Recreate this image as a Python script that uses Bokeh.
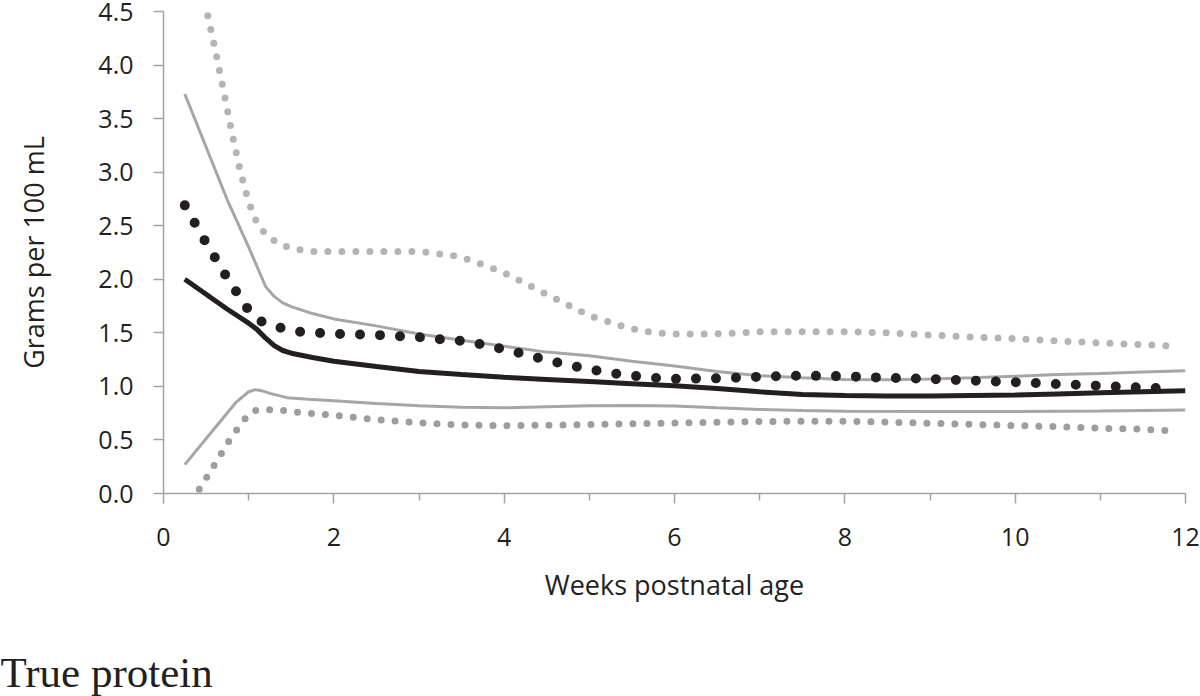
from bokeh.plotting import figure
from bokeh.models import FixedTicker, Title, LinearAxis
from bokeh.embed import file_html
from bokeh.resources import INLINE

# ---------------- data ----------------
x_ticks = [0, 2, 4, 6, 8, 10, 12]
x_minor = [1, 3, 5, 7, 9, 11]
y_ticks = [0.0, 0.5, 1.0, 1.5, 2.0, 2.5, 3.0, 3.5, 4.0, 4.5]
y_tick_labels = ["0.0", "0.5", "1.0", "1.5", "2.0", "2.5", "3.0", "3.5", "4.0", "4.5"]

median_x = [0.25, 0.5, 0.75, 1.0, 1.1, 1.2, 1.3, 1.4, 1.5, 1.75, 2.0, 2.5, 3.0, 3.5, 4.0,
            4.5, 5.0, 5.5, 6.0, 6.5, 7.0, 7.5, 8.0, 8.5, 9.0, 9.5, 10.0, 10.5, 11.0, 11.5, 12.0]
median_y = [2.00, 1.86, 1.72, 1.59, 1.53, 1.45, 1.38, 1.335, 1.31, 1.27, 1.235, 1.185, 1.14, 1.11, 1.085,
            1.065, 1.045, 1.025, 1.005, 0.98, 0.95, 0.925, 0.915, 0.91, 0.91, 0.915, 0.92, 0.93, 0.94, 0.95, 0.96]

mean_x = [0.25, 0.5, 0.75, 1.0, 1.14, 1.25, 1.36, 1.6, 2.0, 2.5, 3.0, 3.25, 3.5, 3.75, 4.0, 4.25,
          4.5, 4.75, 5.0, 5.25, 5.5, 5.75, 6.0, 6.5, 7.0, 7.5, 8.0, 8.5, 9.0, 9.5, 10.0, 10.5,
          11.0, 11.5, 11.85]
mean_y = [2.69, 2.34, 2.01, 1.71, 1.61, 1.575, 1.55, 1.51, 1.49, 1.48, 1.46, 1.44, 1.425, 1.39, 1.345, 1.30,
          1.245, 1.20, 1.16, 1.125, 1.10, 1.08, 1.07, 1.075, 1.09, 1.10, 1.095, 1.08, 1.07, 1.053, 1.04, 1.022,
          1.005, 0.99, 0.98]

upper_x = [0.25, 0.75, 1.0, 1.2, 1.3, 1.4, 1.5, 1.75, 2.0, 2.5, 3.0, 3.5, 4.0, 4.5, 5.0, 5.5,
           6.0, 6.5, 7.0, 7.5, 8.0, 8.5, 9.0, 9.5, 10.0, 10.5, 11.0, 11.5, 12.0]
upper_y = [3.73, 2.74, 2.30, 1.93, 1.84, 1.78, 1.745, 1.68, 1.63, 1.565, 1.49, 1.43, 1.375, 1.32, 1.285, 1.235,
           1.19, 1.14, 1.10, 1.08, 1.065, 1.063, 1.07, 1.08, 1.095, 1.11, 1.12, 1.135, 1.145]

lower_x = [0.25, 0.55, 0.85, 1.0, 1.08, 1.15, 1.25, 1.45, 1.7, 2.0, 2.5, 3.0, 3.5, 4.0, 4.5, 5.0,
           5.5, 6.0, 6.5, 7.0, 7.5, 8.0, 9.0, 10.0, 11.0, 12.0]
lower_y = [0.27, 0.56, 0.85, 0.95, 0.97, 0.96, 0.935, 0.895, 0.88, 0.865, 0.84, 0.82, 0.806, 0.80, 0.81, 0.82,
           0.822, 0.818, 0.80, 0.785, 0.775, 0.768, 0.766, 0.766, 0.77, 0.78]

upper_dot_x = [0.52, 0.6, 0.7, 0.8, 0.9, 1.0, 1.1, 1.2, 1.35, 1.5, 1.7, 2.0, 2.5, 3.0, 3.2, 3.4, 3.6,
               3.8, 4.0, 4.2, 4.4, 4.6, 4.8, 5.0, 5.2, 5.4, 5.6, 5.8, 6.0, 6.5, 7.0, 7.5, 8.0, 8.5,
               9.0, 9.5, 10.0, 10.5, 11.0, 11.5, 11.9]
upper_dot_y = [4.46, 4.17, 3.78, 3.38, 3.01, 2.72, 2.52, 2.42, 2.33, 2.29, 2.26, 2.26, 2.26, 2.26, 2.24, 2.22,
               2.18, 2.12, 2.06, 1.98, 1.90, 1.82, 1.74, 1.66, 1.61, 1.56, 1.52, 1.50, 1.49, 1.49, 1.51,
               1.51, 1.51, 1.50, 1.48, 1.46, 1.445, 1.425, 1.405, 1.39, 1.375]

lower_dot_x = [0.42, 0.6, 0.8, 0.97, 1.05, 1.15, 1.35, 1.6, 2.0, 2.5, 3.0, 3.5, 4.0, 4.5, 5.0, 5.5,
               6.0, 6.5, 7.0, 7.5, 8.0, 8.5, 9.0, 9.5, 10.0, 10.5, 11.0, 11.5, 11.86]
lower_dot_y = [0.04, 0.27, 0.53, 0.71, 0.77, 0.785, 0.78, 0.757, 0.73, 0.69, 0.66, 0.64, 0.633, 0.638, 0.643,
               0.65, 0.658, 0.665, 0.672, 0.675, 0.675, 0.667, 0.655, 0.645, 0.635, 0.623, 0.61, 0.60, 0.585]

x_label = "Weeks postnatal age"
y_label = "Grams per 100 mL"
title_text = "True protein"

# ---------------- figure ----------------
FONT = "Open Sans"
TXT = "#231f20"
AXC = "#a3a3a3"

p = figure(width=1200, height=696, x_range=(0, 12), y_range=(0, 4.5),
           output_backend="svg", toolbar_location=None,
           min_border_left=163, min_border_right=15, min_border_top=11, min_border_bottom=203)
p.background_fill_color = "white"
p.border_fill_color = "white"
p.outline_line_color = None
p.grid.visible = False

# series
p.line(lower_dot_x, lower_dot_y, line_color="#9d9d9d", line_width=7, line_dash="0 14", line_cap="round")
p.line(upper_dot_x, upper_dot_y, line_color="#b4b4b4", line_width=7, line_dash="0 14", line_cap="round")
p.line(lower_x, lower_y, line_color="#a6a6a6", line_width=3)
p.line(upper_x, upper_y, line_color="#a6a6a6", line_width=3)
p.line(median_x, median_y, line_color=TXT, line_width=5)
p.line(mean_x, mean_y, line_color=TXT, line_width=10, line_dash="0 20", line_cap="round")

# axes
xa = p.xaxis[0]
xa.ticker = FixedTicker(ticks=x_ticks, minor_ticks=x_minor)
xa.axis_line_color = AXC
xa.axis_line_width = 1.5
xa.major_tick_line_color = AXC
xa.major_tick_line_width = 1.5
xa.minor_tick_line_color = AXC
xa.minor_tick_line_width = 1.5
xa.major_tick_in = 0
xa.major_tick_out = 10
xa.minor_tick_in = 0
xa.minor_tick_out = 7
xa.major_label_text_font = FONT
xa.major_label_text_font_size = "25px"
xa.major_label_text_color = TXT
xa.major_label_standoff = 24
xa.axis_label = x_label
xa.axis_label_text_font = FONT
xa.axis_label_text_font_size = "27px"
xa.axis_label_text_font_style = "normal"
xa.axis_label_text_color = TXT
xa.axis_label_standoff = 17

ya = p.yaxis[0]
ya.ticker = FixedTicker(ticks=y_ticks)
ya.major_label_overrides = {t: l for t, l in zip(y_ticks, y_tick_labels)}
ya.axis_line_color = AXC
ya.axis_line_width = 1.5
ya.major_tick_line_color = AXC
ya.major_tick_line_width = 1.5
ya.minor_tick_line_color = None
ya.major_tick_in = 0
ya.major_tick_out = 10
ya.major_label_text_font = FONT
ya.major_label_text_font_size = "25px"
ya.major_label_text_color = TXT
ya.major_label_standoff = 20
ya.axis_label = y_label
ya.axis_label_text_font = FONT
ya.axis_label_text_font_size = "27px"
ya.axis_label_text_font_style = "normal"
ya.axis_label_text_color = TXT
ya.axis_label_standoff = 43

# invisible spacer between the x axis and the caption (white tick on white, no labels, no line)
spacer = LinearAxis(ticker=FixedTicker(ticks=[6], minor_ticks=[]), axis_line_color=None,
                    major_tick_line_color="white", minor_tick_line_color=None,
                    major_tick_in=0, major_tick_out=40, minor_tick_in=0, minor_tick_out=0,
                    major_label_text_color=None, major_label_text_font_size="1px",
                    major_label_standoff=0)
p.add_layout(spacer, "below")

t = Title(text=title_text, align="left", text_font="Liberation Serif", text_font_size="43px",
          text_font_style="normal", text_color=TXT, offset=-163, standoff=2)
p.add_layout(t, "below")

open("out.html", "w").write(file_html(p, INLINE))
